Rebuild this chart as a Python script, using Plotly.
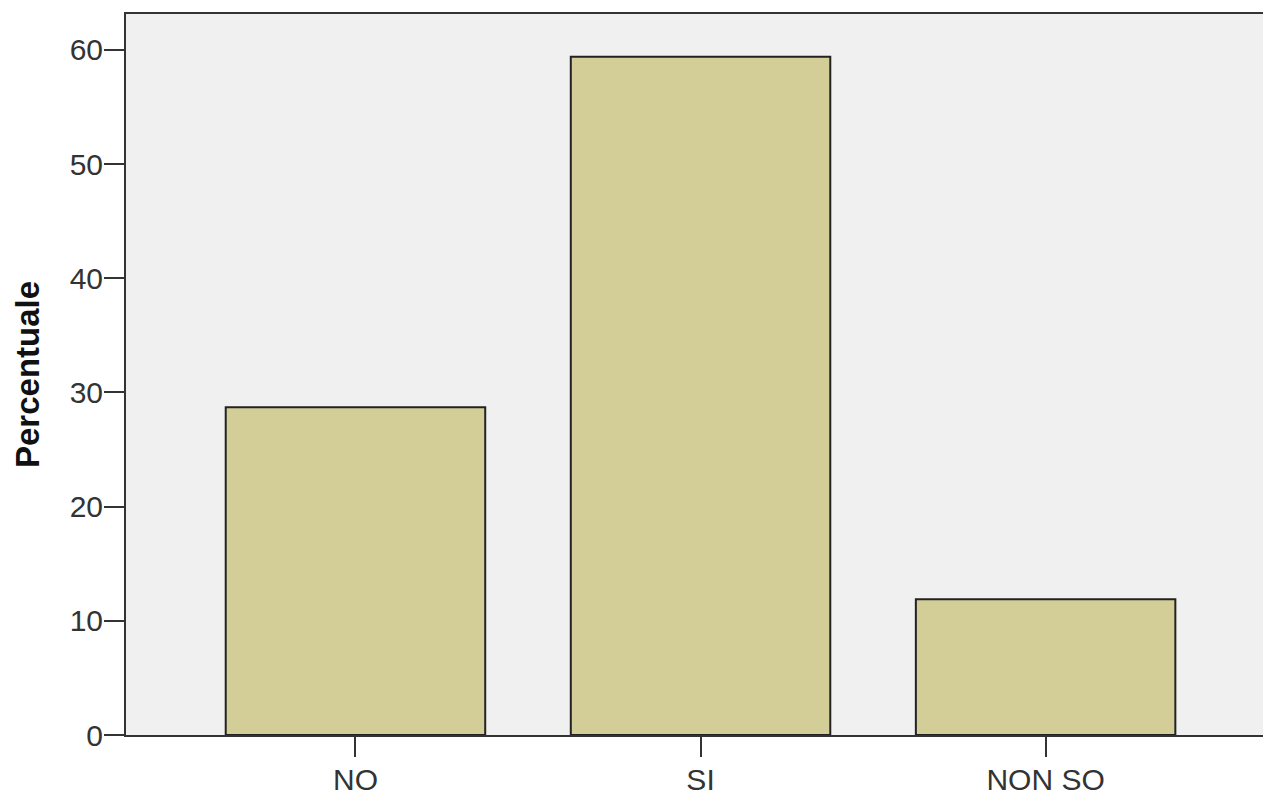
import plotly.graph_objects as go

categories = ["NO", "SI", "NON SO"]
percentages = [28.7, 59.4, 11.9]
y_ticks = [0, 10, 20, 30, 40, 50, 60]

FONT = "Arial, Liberation Sans, sans-serif"

W, H = 1263, 797
L, T, B = 126, 14, 62

fig = go.Figure()
fig.add_trace(go.Bar(
    x=categories,
    y=percentages,
    width=0.752,
    marker=dict(color="rgb(211,206,151)", line=dict(color="#222222", width=2)),
))

fig.update_layout(
    width=W,
    height=H,
    margin=dict(l=L, r=0, t=T, b=B, pad=0),
    paper_bgcolor="white",
    plot_bgcolor="rgb(240,240,240)",
    showlegend=False,
    font=dict(family=FONT, color="#333333"),
    xaxis=dict(
        range=[-0.665, 2.63],
        showgrid=False,
        showline=True,
        linecolor="#333333",
        linewidth=2,
        mirror=True,
        ticks="outside",
        ticklen=20,
        tickwidth=2,
        tickcolor="#333333",
        ticklabelstandoff=-3,
        tickfont=dict(size=30, family=FONT, color="#333333"),
        zeroline=False,
    ),
    yaxis=dict(
        range=[0, 63.15],
        tickvals=y_ticks,
        showgrid=False,
        showline=True,
        linecolor="#333333",
        linewidth=2,
        mirror=False,
        ticks="outside",
        ticklen=20,
        tickwidth=2,
        tickcolor="#333333",
        ticklabelstandoff=-5,
        tickfont=dict(size=30, family=FONT, color="#333333"),
        zeroline=False,
    ),
    annotations=[dict(
        text="<b>Percentuale</b>",
        xref="paper", yref="paper",
        x=(27.5 - L) / (W - L), y=0.5,
        xanchor="center", yanchor="middle",
        textangle=-90,
        showarrow=False,
        font=dict(size=33, family=FONT, color="#111111"),
    )],
)

fig.write_html(
    "out.html",
    config={"displayModeBar": False},
    post_script="document.body.style.margin='0';document.body.style.overflow='hidden';",
)
